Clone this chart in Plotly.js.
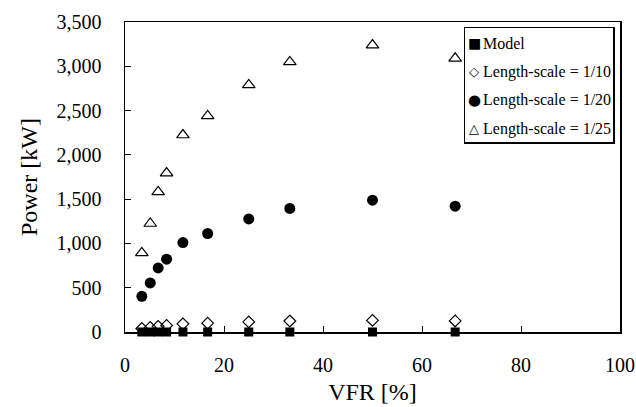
<!DOCTYPE html>
<html>
<head>
<meta charset="utf-8">
<script src="https://cdn.plot.ly/plotly-3.0.1.min.js"></script>
<style>html,body{margin:0;padding:0;background:#fff;}#chart{width:636px;height:407px;}</style>
</head>
<body>
<div id="chart"></div>
<script>
// ---- data ----
const vfr = [3.4, 5.1, 6.7, 8.4, 11.7, 16.7, 25, 33.3, 50, 66.7];
const powerModel = [0.1, 0.1, 0.1, 0.1, 0.1, 0.1, 0.1, 0.1, 0.1, 0.1];
const power10 = [40, 52, 64, 74, 92, 100, 114, 124, 131, 125];
const power20 = [403, 554, 723, 822, 1010, 1112, 1277, 1395, 1488, 1420];
const power25 = [893, 1225, 1582, 1794, 2224, 2439, 2789, 3050, 3240, 3090];
const seriesNames = ["Model", "Length-scale = 1/10", "Length-scale = 1/20", "Length-scale = 1/25"];
const legendGlyphs = ["\u25A0", "\u25C7", "\u25CF", "\u25B3"];
const xTitle = "VFR [%]";
const yTitle = "Power [kW]";

const FONT = "Liberation Serif, Times New Roman, serif";
const W = 636, H = 407;
const M = {l: 125, r: 16, t: 22, b: 75};
const pw = W - M.l - M.r, ph = H - M.t - M.b;
const px2x = p => (p - M.l) / pw;
const py2y = p => 1 - (p - M.t) / ph;

const traces = [
  {x: vfr, y: powerModel, name: seriesNames[0], mode: "markers", type: "scatter", cliponaxis: false,
   marker: {symbol: "square", size: 9, color: "#000"}},
  {x: vfr, y: power10, name: seriesNames[1], mode: "markers", type: "scatter", cliponaxis: false,
   marker: {symbol: "diamond-open", size: 9, color: "#000", line: {width: 1.2, color: "#000"}}},
  {x: vfr, y: power20, name: seriesNames[2], mode: "markers", type: "scatter", cliponaxis: false,
   marker: {symbol: "circle", size: 11, color: "#000"}},
  {x: vfr, y: power25, name: seriesNames[3], mode: "markers", type: "scatter", cliponaxis: false,
   marker: {symbol: "triangle-up-open", size: 11, color: "#000", line: {width: 1.2, color: "#000"}}},
  // empty trace that only hosts the legend-frame subplot
  {x: [], y: [], xaxis: "x2", yaxis: "y2", type: "scatter", mode: "markers", hoverinfo: "skip"}
];

// legend built as a framed list of text entries
const legTop = 28, legBottom = 142, legLeft = 465, legRight = 613;
const entryY = [43, 71.5, 100, 128.5];
const glyphSize = [14, 13, 15, 13];
const annotations = [];
seriesNames.forEach((n, i) => {
  annotations.push({xref: "paper", yref: "paper", x: px2x(474), y: py2y(entryY[i]),
    xanchor: "center", yanchor: "middle", showarrow: false,
    text: legendGlyphs[i], font: {family: "DejaVu Sans", size: glyphSize[i], color: "#000"}});
  annotations.push({xref: "paper", yref: "paper", x: px2x(481), y: py2y(entryY[i]),
    xanchor: "left", yanchor: "middle", showarrow: false,
    text: n, font: {family: FONT, size: 16, color: "#000"}});
});

const frameAxis = {showline: true, mirror: true, linecolor: "#000", linewidth: 1.5,
  showgrid: false, zeroline: false, showticklabels: false, ticks: "", range: [0, 1], fixedrange: true};

const layout = {
  width: W, height: H,
  margin: M,
  paper_bgcolor: "#fff", plot_bgcolor: "rgba(0,0,0,0)",
  showlegend: false,
  font: {family: FONT, color: "#000", size: 20},
  xaxis: {
    range: [0, 100], dtick: 20, tick0: 0,
    showgrid: false, zeroline: false,
    showline: true, mirror: true, linecolor: "#000", linewidth: 1.5,
    ticks: "inside", ticklen: 6, tickwidth: 1, tickcolor: "#000",
    ticklabelstandoff: 14,
    tickfont: {family: FONT, size: 20, color: "#000"},
    title: {text: xTitle, font: {family: FONT, size: 24, color: "#000"}, standoff: 8}
  },
  yaxis: {
    range: [0, 3500], dtick: 500, tick0: 0, tickformat: ",",
    showgrid: false, zeroline: false,
    showline: true, mirror: true, linecolor: "#000", linewidth: 1.5,
    ticks: "inside", ticklen: 6, tickwidth: 1, tickcolor: "#000",
    ticklabelstandoff: 18,
    tickfont: {family: FONT, size: 20, color: "#000"},
    title: {text: yTitle, font: {family: FONT, size: 24, color: "#000"}, standoff: 12}
  },
  xaxis2: Object.assign({anchor: "y2", domain: [px2x(legLeft), px2x(legRight)]}, frameAxis),
  yaxis2: Object.assign({anchor: "x2", domain: [py2y(legBottom), py2y(legTop)]}, frameAxis),
  annotations: annotations
};

Plotly.newPlot("chart", traces, layout, {displayModeBar: false, staticPlot: true});
</script>
</body>
</html>
